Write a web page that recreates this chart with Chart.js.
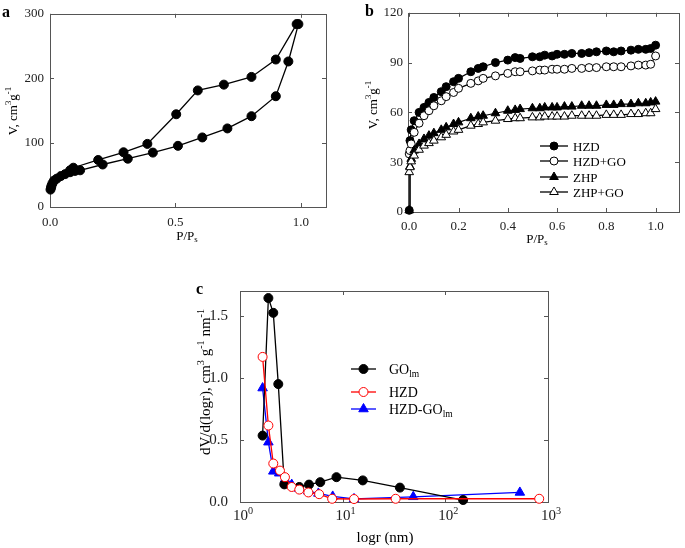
<!DOCTYPE html>
<html>
<head>
<meta charset="utf-8">
<script src="https://cdn.jsdelivr.net/npm/chart.js@4.4.1/dist/chart.umd.min.js"></script>
<style>
  body { margin: 0; background: #fff; }
  #wrap { position: relative; width: 685px; height: 548px; }
  canvas { position: absolute; }
</style>
</head>
<body>
<div id="wrap">
  <canvas id="chartA" width="335" height="262" style="left:0;top:0"></canvas>
  <canvas id="chartB" width="345" height="262" style="left:340px;top:0"></canvas>
  <canvas id="chartC" width="400" height="278" style="left:190px;top:270px"></canvas>
</div>
<script>
// ---- panel a: N2 isotherm (adsorption / desorption)
const aAdsP = [0.002, 0.004, 0.006, 0.01, 0.016, 0.027, 0.043, 0.06, 0.08, 0.1, 0.12, 0.21, 0.31, 0.41, 0.51, 0.607, 0.707, 0.803, 0.9, 0.95, 0.99];
const aAdsV = [27, 30, 33, 37, 41, 44, 48, 51, 54, 56, 57, 66, 75, 84.5, 95, 108, 122, 141, 172, 226, 284];
const aDesP = [0.983, 0.9, 0.803, 0.693, 0.589, 0.503, 0.388, 0.293, 0.192, 0.093, 0.08];
const aDesV = [284, 229, 202, 190, 181, 144, 98, 85, 73, 61, 57];
const aXTicks = [0, 0.5, 1.0];
const aYTicks = [0, 100, 200, 300];

// ---- panel b: isotherms of four samples
const bP     = [0, 0.003, 0.008, 0.02, 0.04, 0.06, 0.08, 0.1, 0.13, 0.15, 0.18, 0.2, 0.25, 0.28, 0.3, 0.35, 0.4, 0.43, 0.45, 0.5, 0.53, 0.55, 0.58, 0.6, 0.63, 0.66, 0.7, 0.73, 0.76, 0.8, 0.83, 0.86, 0.9, 0.93, 0.96, 0.98, 1.0];
const bHZD   = [1, 43, 49.5, 55, 60, 63, 66, 69, 72.5, 75.5, 78.5, 80.5, 84.5, 86.5, 87.5, 90, 91.5, 93, 92.5, 93.5, 93.5, 94.5, 94, 95, 95, 95.5, 95.5, 96, 96.5, 97, 96.5, 97, 97.5, 98, 98, 98.5, 100.5];
const bHZDGO = [35, 37, 41, 48, 53.5, 58, 61, 64, 67, 69.5, 72, 74.5, 77.5, 79, 80.5, 82, 83.5, 84.5, 84.5, 85, 85.5, 85.5, 86, 86, 86, 86.5, 86.5, 87, 87, 87.5, 87.5, 87.5, 88, 88.5, 88.5, 89, 94];
const bZHP   = [1, 27.5, 32, 37, 41, 44, 46, 47.5, 49.5, 51, 53, 54, 56.5, 57.5, 58, 59.5, 61, 61.5, 62, 62.5, 62.5, 63, 63, 63, 63.5, 63.5, 64, 64, 64, 64.5, 64.5, 65, 65, 65.5, 65.5, 66, 66.5];
const bZHPGO = [24, 27, 30.5, 34, 37.5, 40, 41.5, 43, 45, 46.5, 48.5, 49.5, 52, 53, 54, 55, 56, 56.5, 56.5, 57, 57, 57.5, 57.5, 57.5, 57.5, 58, 58, 58, 58, 58.5, 58.5, 58.5, 59, 59, 59.5, 59.5, 62];
const bXTicks = [0, 0.2, 0.4, 0.6, 0.8, 1.0];
const bYTicks = [0, 30, 60, 90, 120];

// ---- panel c: pore size distribution
const cGoR  = [1.66, 1.89, 2.11, 2.36, 2.70, 3.78, 4.7, 6.05, 8.7, 15.7, 36.1, 149];
const cGoV  = [0.535, 1.643, 1.524, 0.95, 0.142, 0.121, 0.14, 0.16, 0.2, 0.174, 0.116, 0.016];
const cHzdR = [1.66, 1.89, 2.11, 2.45, 2.74, 3.19, 3.78, 4.63, 5.9, 7.9, 12.9, 32.8, 821];
const cHzdV = [1.169, 0.616, 0.31, 0.253, 0.2, 0.121, 0.1, 0.077, 0.063, 0.026, 0.024, 0.026, 0.026];
const cHgR  = [1.66, 1.89, 2.11, 2.41, 2.74, 3.19, 3.78, 4.63, 5.8, 8.0, 12.9, 48.7, 532];
const cHgV  = [0.918, 0.482, 0.247, 0.232, 0.182, 0.14, 0.108, 0.087, 0.069, 0.045, 0.025, 0.042, 0.077];
const cXTicks = [1, 10, 100, 1000];
const cYTicks = [0, 0.5, 1.0, 1.5];

const SERIF = "'Liberation Serif', 'Times New Roman', serif";

function pts(xs, ys) {
    return xs.map((x, i) => ({ x: x, y: ys[i] }));
}

// text with super/subscripts, parts = [[text, 'sup'|'sub'|undefined], ...]
function drawRich(ctx, parts, x, y, size, align) {
    const fontFor = m => (m ? size * 0.68 : size) + 'px ' + SERIF;
    let w = 0;
    parts.forEach(p => { ctx.font = fontFor(p[1]); w += ctx.measureText(p[0]).width; });
    let cx = align === 'left' ? x : x - w / 2;
    ctx.textBaseline = 'alphabetic';
    ctx.textAlign = 'left';
    parts.forEach(p => {
        ctx.font = fontFor(p[1]);
        let dy = 0;
        if (p[1] === 'sup') dy = -size * 0.42;
        if (p[1] === 'sub') dy = size * 0.22;
        ctx.fillText(p[0], cx, y + size * 0.35 + dy);
        cx += ctx.measureText(p[0]).width;
    });
}

function drawMarker(ctx, style, x, y, r, fill, stroke) {
    ctx.beginPath();
    if (style === 'triangle') {
        let rad = 0;
        ctx.moveTo(x + Math.sin(rad) * r, y - Math.cos(rad) * r);
        rad += Math.PI * 2 / 3;
        ctx.lineTo(x + Math.sin(rad) * r, y - Math.cos(rad) * r);
        rad += Math.PI * 2 / 3;
        ctx.lineTo(x + Math.sin(rad) * r, y - Math.cos(rad) * r);
        ctx.closePath();
    } else {
        ctx.arc(x, y, r, 0, Math.PI * 2);
    }
    ctx.fillStyle = fill;
    ctx.fill();
    ctx.strokeStyle = stroke;
    ctx.lineWidth = 1;
    ctx.stroke();
}

// extra drawing per canvas: frame, inward ticks, titles, legends
const deco = {
    chartA: {
        xTicks: aXTicks, yTicks: aYTicks, size: 13,
        label: ['a', 2, 13],
        xTitle: [[['P/P'], ['s', 'sub']], 187, 235],
        yTitle: [[['V, cm'], ['3', 'sup'], ['g'], ['-1', 'sup']], 12, 111],
        legend: []
    },
    chartB: {
        xTicks: bXTicks, yTicks: bYTicks, size: 13,
        label: ['b', 25, 12],
        xTitle: [[['P/P'], ['s', 'sub']], 197, 238],
        yTitle: [[['V, cm'], ['3', 'sup'], ['g'], ['-1', 'sup']], 32, 105],
        legend: [
            { y: 146, color: '#000', style: 'circle', r: 4, fill: '#000', text: [['HZD']] },
            { y: 161, color: '#000', style: 'circle', r: 4, fill: '#fff', text: [['HZD+GO']] },
            { y: 177, color: '#000', style: 'triangle', r: 5, fill: '#000', text: [['ZHP']] },
            { y: 192, color: '#000', style: 'triangle', r: 5, fill: '#fff', text: [['ZHP+GO']] }
        ],
        legendX: [200, 228, 233]
    },
    chartC: {
        xTicks: cXTicks, yTicks: cYTicks, size: 15,
        label: ['c', 6, 20],
        xTitle: [[['logr (nm)']], 195, 267],
        yTitle: [[['dV/d(logr), cm'], ['3', 'sup'], [' g'], ['-1', 'sup'], [' nm'], ['-1', 'sup']], 15, 112],
        legend: [
            { y: 99, color: '#000', style: 'circle', r: 4.5, fill: '#000', text: [['GO'], ['lm', 'sub']] },
            { y: 122, color: '#ff0000', style: 'circle', r: 4.5, fill: '#fff', text: [['HZD']] },
            { y: 139, color: '#0000ff', style: 'triangle', r: 5.5, fill: '#0000ff', text: [['HZD-GO'], ['lm', 'sub']] }
        ],
        legendX: [161, 186, 199],
        logLabels: true
    }
};

const decoPlugin = {
    id: 'deco',
    beforeDatasetsDraw(chart) {
        const d = deco[chart.canvas.id];
        const ctx = chart.ctx;
        const a = chart.chartArea;
        const xs = chart.scales.x, ys = chart.scales.y;
        ctx.save();
        ctx.strokeStyle = '#555';
        ctx.lineWidth = 1;
        ctx.strokeRect(Math.round(a.left) + 0.5, Math.round(a.top) + 0.5, Math.round(a.right - a.left), Math.round(a.bottom - a.top));
        ctx.beginPath();
        d.xTicks.forEach(v => {
            const p = Math.round(xs.getPixelForValue(v)) + 0.5;
            ctx.moveTo(p, a.bottom); ctx.lineTo(p, a.bottom - 4);
            ctx.moveTo(p, a.top); ctx.lineTo(p, a.top + 4);
        });
        d.yTicks.forEach(v => {
            const p = Math.round(ys.getPixelForValue(v)) + 0.5;
            ctx.moveTo(a.left, p); ctx.lineTo(a.left + 4, p);
            ctx.moveTo(a.right, p); ctx.lineTo(a.right - 4, p);
        });
        ctx.stroke();
        ctx.restore();
    },
    afterDraw(chart) {
        const d = deco[chart.canvas.id];
        const ctx = chart.ctx;
        const a = chart.chartArea;
        const xs = chart.scales.x;
        ctx.save();
        ctx.fillStyle = '#000';

        // panel label
        ctx.font = 'bold 16px ' + SERIF;
        ctx.textAlign = 'left';
        ctx.textBaseline = 'middle';
        ctx.fillText(d.label[0], d.label[1], d.label[2]);

        // log axis labels 10^n
        if (d.logLabels) {
            ctx.fillStyle = '#222';
            d.xTicks.forEach(v => {
                const p = xs.getPixelForValue(v);
                drawRich(ctx, [['10'], [String(Math.round(Math.log10(v))), 'sup']], p + 3, a.bottom + 13, d.size, 'center');
            });
            ctx.fillStyle = '#000';
        }

        // axis titles
        drawRich(ctx, d.xTitle[0], d.xTitle[1], d.xTitle[2], d.size, 'center');
        ctx.save();
        ctx.translate(d.yTitle[1], d.yTitle[2]);
        ctx.rotate(-Math.PI / 2);
        drawRich(ctx, d.yTitle[0], 0, 0, d.size, 'center');
        ctx.restore();

        // legend
        d.legend.forEach(it => {
            const [x1, x2, tx] = d.legendX;
            ctx.strokeStyle = it.color;
            ctx.lineWidth = 1.3;
            ctx.beginPath();
            ctx.moveTo(x1, it.y); ctx.lineTo(x2, it.y);
            ctx.stroke();
            drawMarker(ctx, it.style, (x1 + x2) / 2, it.y, it.r, it.fill, it.color);
            ctx.fillStyle = '#000';
            drawRich(ctx, it.text, tx, it.y, chart.canvas.id === 'chartC' ? 14 : 13, 'left');
        });
        ctx.restore();
    }
};

function series(data, color, style, r, fill, lw) {
    return {
        data: data,
        showLine: true,
        borderColor: color,
        borderWidth: lw,
        pointStyle: style,
        pointRadius: r,
        pointHoverRadius: r,
        pointBackgroundColor: fill,
        pointBorderColor: color,
        pointBorderWidth: 1,
        tension: 0,
        clip: false
    };
}

function axis(type, min, max, ticks, size, fit, fitSize, padding, fmt, showLabels) {
    return {
        type: type,
        min: min,
        max: max,
        afterBuildTicks: s => { s.ticks = ticks.map(v => ({ value: v })); },
        afterFit: s => { if (fit === 'w') s.width = fitSize; else s.height = fitSize; },
        grid: { display: false, drawTicks: false },
        border: { display: false },
        ticks: {
            display: showLabels,
            autoSkip: false,
            maxRotation: 0,
            padding: padding,
            color: '#222',
            font: { family: SERIF, size: size },
            callback: fmt
        }
    };
}

function makeChart(id, datasets, xAxis, yAxis, pad) {
    return new Chart(document.getElementById(id), {
        type: 'scatter',
        data: { datasets: datasets },
        options: {
            responsive: false,
            animation: false,
            layout: { padding: pad },
            plugins: { legend: { display: false }, tooltip: { enabled: false } },
            scales: { x: xAxis, y: yAxis }
        },
        plugins: [decoPlugin]
    });
}

makeChart('chartA', [
        series(pts(aAdsP, aAdsV), '#000', 'circle', 4.5, '#000', 1.3),
        series(pts(aDesP, aDesV), '#000', 'circle', 4.5, '#000', 1.3)
    ],
    axis('linear', 0, 1.1, aXTicks, 13, 'h', 55, 8, v => v.toFixed(1), true),
    axis('linear', 0, 300, aYTicks, 13, 'w', 50, 6, v => String(v), true),
    { left: 0, top: 13, right: 9, bottom: 0 });

makeChart('chartB', [
        series(pts(bP, bZHPGO), '#000', 'triangle', 5, '#fff', 1.2),
        series(pts(bP, bZHP), '#000', 'triangle', 5, '#000', 1.2),
        series(pts(bP, bHZDGO), '#000', 'circle', 4, '#fff', 1.2),
        series(pts(bP, bHZD), '#000', 'circle', 4, '#000', 1.2)
    ],
    axis('linear', -0.005, 1.095, bXTicks, 13, 'h', 50, 7, v => v.toFixed(1), true),
    axis('linear', 0, 120, bYTicks, 13, 'w', 68, 5, v => String(v), true),
    { left: 0, top: 11, right: 2, bottom: 0 });

makeChart('chartC', [
        series(pts(cHzdR, cHzdV), '#ff0000', 'circle', 4.5, '#fff', 1.3),
        series(pts(cGoR, cGoV), '#000', 'circle', 4.5, '#000', 1.3),
        series(pts(cHgR, cHgV), '#0000ff', 'triangle', 5.5, '#0000ff', 1.3)
    ],
    axis('logarithmic', 1, 1000, cXTicks, 15, 'h', 46, 6, () => '', false),
    axis('linear', 0, 1.7, cYTicks, 15, 'w', 50, 12, v => v.toFixed(1), true),
    { left: 0, top: 17, right: 42, bottom: 0 });
</script>
</body>
</html>
